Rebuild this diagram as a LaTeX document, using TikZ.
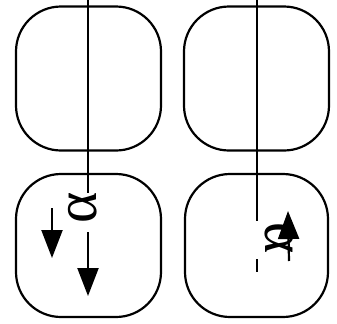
\documentclass[tikz,border=0pt]{standalone}
\usepackage{fontspec}
\newfontfamily\libserif{Liberation Serif}
\usetikzlibrary{arrows.meta}
\begin{document}
\begin{tikzpicture}[x=1bp,y=-1bp,line width=2.2bp,
  box/.style={draw,rounded corners=45bp,minimum width=145bp,minimum height=144bp,inner sep=0pt},
  arr/.style={-{Triangle[length=28bp,width=21bp]}},
  glyph/.style={inner sep=0pt,font=\libserif\fontsize{60}{64}\selectfont}]
\useasboundingbox (0,0) rectangle (337,324);
\node[box] (tl) at (88.5,78.5) {};
\node[box] (tr) at (256.5,78.5) {};
\node[box,minimum height=143bp] (bl) at (88.5,245.5) {};
\node[box,minimum width=143bp,minimum height=143bp] (br) at (256.5,245.5) {};
\coordinate (la) at (88,0);
\coordinate (lb) at (88,193);
\coordinate (ra) at (257,0);
\coordinate (rb) at (257,221);
\coordinate (rc) at (257,259);
\coordinate (rd) at (257,272);
\draw (la) -- (lb);
\draw (ra) -- (rb);
\draw (rc) -- (rd);
\node[glyph,rotate=90] (alpha1) at (83,208) {α};
\coordinate (a1s) at (88,232);
\coordinate (a1e) at (88,296);
\draw[arr] (a1s) -- (a1e);
\coordinate (a2s) at (52,208);
\coordinate (a2e) at (52,258);
\draw[arr] (a2s) -- (a2e);
\node[glyph,rotate=-90] (alpha2) at (279,238) {α};
\coordinate (a3s) at (289,261);
\coordinate (a3e) at (288,211);
\draw[arr] (a3s) -- (a3e);
\end{tikzpicture}
\end{document}
